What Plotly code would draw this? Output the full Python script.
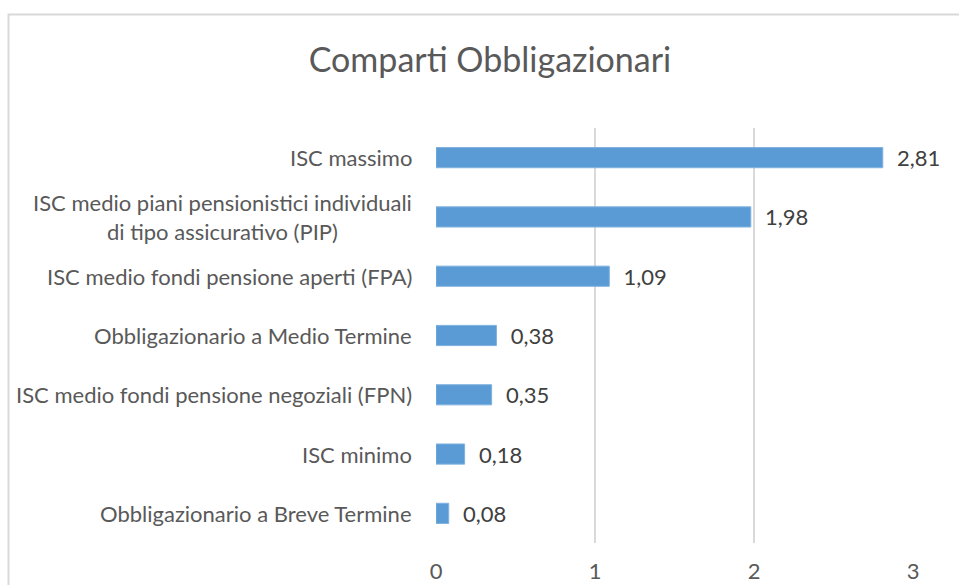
import plotly.graph_objects as go

categories = [
    "ISC massimo",
    "ISC medio piani pensionistici individuali<br>di tipo assicurativo (PIP)",
    "ISC medio fondi pensione aperti (FPA)",
    "Obbligazionario a Medio Termine",
    "ISC medio fondi pensione negoziali (FPN)",
    "ISC minimo",
    "Obbligazionario a Breve Termine",
]
values = [2.81, 1.98, 1.09, 0.38, 0.35, 0.18, 0.08]
x_ticks = [0, 1, 2, 3]
title_text = "Comparti Obbligazionari"

FONT = "Lato"
GRAY = "#595959"

fig = go.Figure(
    go.Bar(
        x=values,
        y=categories,
        orientation="h",
        marker=dict(color="#5B9BD5", line=dict(color="#7FB1DF", width=1)),
        texttemplate="  %{x:.2f}",
        textposition="outside",
        constraintext="none",
        textfont=dict(family=FONT, size=22, color="#404040"),
        cliponaxis=False,
        hoverinfo="skip",
    )
)

annotations = []
for c in categories:
    annotations.append(dict(
        x=0, xref="paper", y=c, yref="y",
        text=c, showarrow=False,
        xanchor="right", yanchor="middle", align="center",
        xshift=-22,
        font=dict(family=FONT, size=22, color=GRAY),
    ))

fig.update_layout(
    width=959, height=585,
    margin=dict(l=436, r=46, t=128, b=42, autoexpand=False),
    paper_bgcolor="white", plot_bgcolor="white",
    separators=",.",
    showlegend=False,
    bargap=0.66,
    title=dict(text=title_text, x=490 / 959, xref="container", xanchor="center",
               y=1 - 60 / 585, yref="container", yanchor="middle",
               font=dict(family=FONT, size=34, color=GRAY)),
    xaxis=dict(range=[0, 3], tickvals=x_ticks, showgrid=True, gridcolor="#D9D9D9",
               gridwidth=2, zeroline=False, showline=False, automargin=False,
               ticks="outside", ticklen=9, tickcolor="rgba(0,0,0,0)",
               tickfont=dict(family=FONT, size=22, color=GRAY)),
    yaxis=dict(autorange="reversed", showticklabels=False, showgrid=False,
               zeroline=False, showline=False, ticks="", automargin=False),
    annotations=annotations,
    shapes=[dict(type="rect", xref="paper", yref="paper",
                 x0=(8.5 - 436) / 477, x1=1.3,
                 y0=-0.3, y1=(543 - 14.5) / 415,
                 line=dict(color="#D9D9D9", width=2), fillcolor="rgba(0,0,0,0)",
                 layer="below")],
)

fig.write_html(
    "out.html",
    config={"displayModeBar": False},
    post_script="document.body.style.margin='0';document.body.style.overflow='hidden';",
)
